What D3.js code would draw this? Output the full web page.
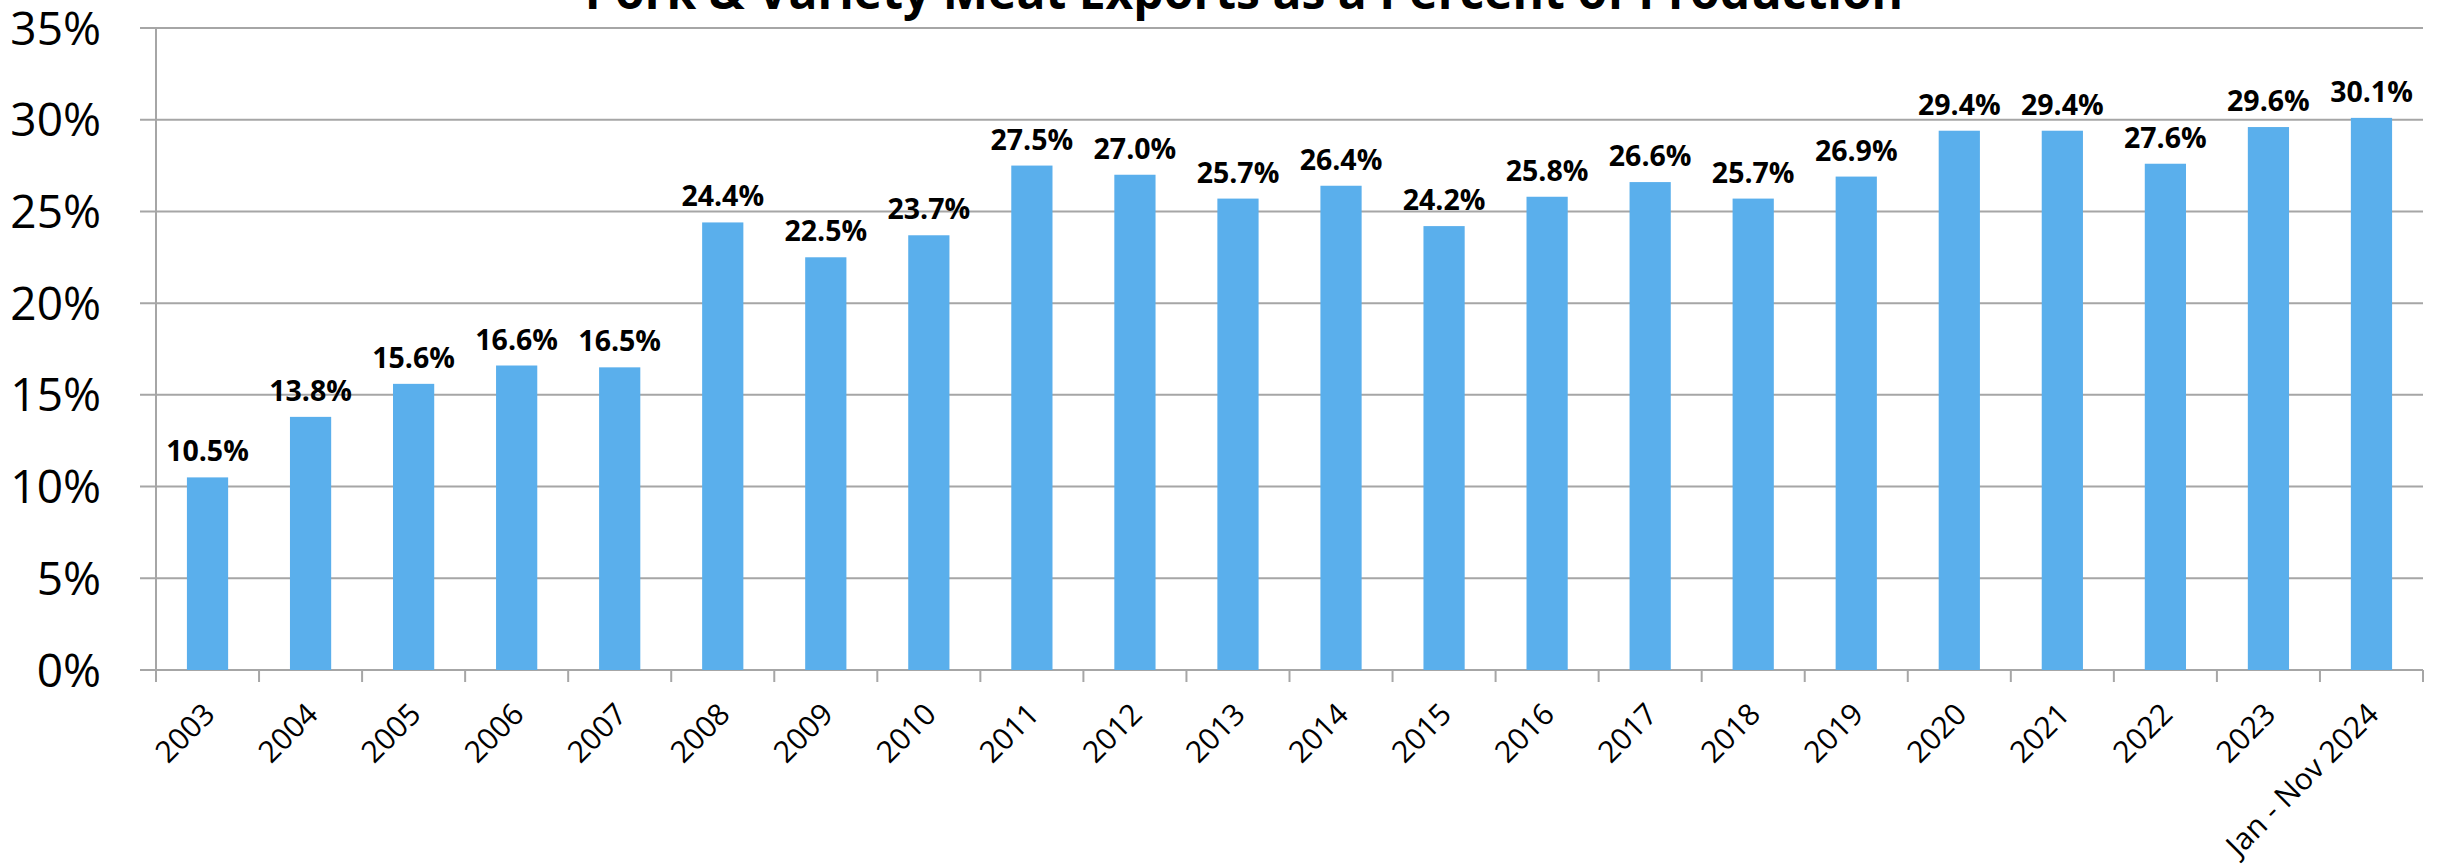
<!DOCTYPE html>
<html>
<head>
<meta charset="utf-8">
<script src="https://cdn.jsdelivr.net/npm/d3@7"></script>
<style>
  body { margin: 0; background: #fff; }
  text { font-family: "Open Sans", sans-serif; }
</style>
</head>
<body>
<svg id="chart"></svg>
<script>
let categories = ['2003', '2004', '2005', '2006', '2007', '2008', '2009', '2010', '2011', '2012', '2013',
    '2014', '2015', '2016', '2017', '2018', '2019', '2020', '2021', '2022', '2023', 'Jan - Nov 2024'];
let values = [10.5, 13.8, 15.6, 16.6, 16.5, 24.4, 22.5, 23.7, 27.5, 27.0, 25.7,
    26.4, 24.2, 25.8, 26.6, 25.7, 26.9, 29.4, 29.4, 27.6, 29.6, 30.1];
let yTicks = [0, 5, 10, 15, 20, 25, 30, 35];
let title = 'Pork & Variety Meat Exports as a Percent of Production';

let width = 2440;
let height = 868;
let margin = {top: 28, right: 17, bottom: 198, left: 156};
let contentWidth = width - margin.left - margin.right;
let contentHeight = height - margin.top - margin.bottom;

let data = categories.map((c, i) => ({cat: c, value: values[i]}));

let svg = d3.select('#chart').attr('width', width).attr('height', height);
let g = svg.append('g').attr('transform', 'translate(' + margin.left + ',' + margin.top + ')');

let x = d3.scaleBand().domain(categories).range([0, contentWidth]).paddingInner(0.6).paddingOuter(0.3);
let xCell = d3.scaleBand().domain(categories).range([0, contentWidth]).padding(0);
let y = d3.scaleLinear().domain([0, 35]).range([contentHeight, 0]);

// gridlines + y ticks
g.selectAll('.grid').data(yTicks).enter().append('line')
    .attr('x1', -16).attr('x2', contentWidth)
    .attr('y1', d => y(d)).attr('y2', d => y(d))
    .attr('stroke', '#a6a6a6').attr('stroke-width', 2);

g.selectAll('.ylab').data(yTicks).enter().append('text')
    .attr('x', -55).attr('y', d => y(d))
    .attr('dy', '0.36em')
    .attr('text-anchor', 'end')
    .style('font-size', '46px')
    .attr('fill', '#000')
    .text(d => d + '%');

// y axis line
g.append('line').attr('x1', 0).attr('x2', 0).attr('y1', 0).attr('y2', contentHeight)
    .attr('stroke', '#a6a6a6').attr('stroke-width', 2);

// x ticks at category boundaries
let bounds = categories.map(c => xCell(c)).concat([contentWidth]);
g.selectAll('.xtick').data(bounds).enter().append('line')
    .attr('x1', d => d).attr('x2', d => d)
    .attr('y1', contentHeight).attr('y2', contentHeight + 12)
    .attr('stroke', '#a6a6a6').attr('stroke-width', 2);

// bars
g.selectAll('.bar').data(data).enter().append('rect')
    .attr('x', d => x(d.cat))
    .attr('y', d => y(d.value))
    .attr('width', x.bandwidth())
    .attr('height', d => contentHeight - y(d.value))
    .attr('fill', '#5aafec');

// value labels
g.selectAll('.value').data(data).enter().append('text')
    .attr('x', d => x(d.cat) + x.bandwidth() / 2)
    .attr('y', d => y(d.value) - 16)
    .attr('text-anchor', 'middle')
    .style('font-size', '28.5px')
    .style('font-weight', 'bold')
    .attr('fill', '#000')
    .text(d => d.value.toFixed(1) + '%');

// x labels
g.selectAll('.xlab').data(categories).enter().append('text')
    .attr('transform', d => 'translate(' + (xCell(d) + xCell.bandwidth() / 2 + 9) + ',' + (contentHeight + 46) + ') rotate(-45)')
    .attr('text-anchor', 'end')
    .style('font-size', '30px')
    .attr('fill', '#000')
    .text(d => d);

// title
svg.append('text')
    .attr('x', 1244).attr('y', 9)
    .attr('text-anchor', 'middle')
    .style('font-size', '48px')
    .style('font-weight', 'bold')
    .attr('fill', '#000')
    .text(title);
</script>
</body>
</html>
